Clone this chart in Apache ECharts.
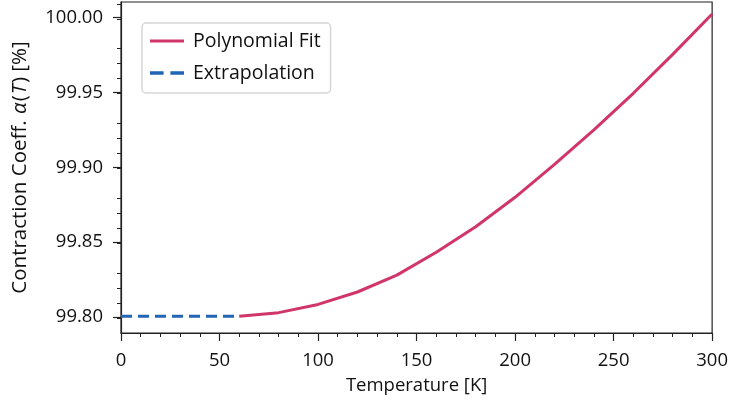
<!DOCTYPE html>
<html>
<head>
<meta charset="utf-8">
<script src="https://cdn.jsdelivr.net/npm/echarts@6/dist/echarts.min.js"></script>
<style>
  html, body { margin: 0; padding: 0; background: #fff; }
  #chart { width: 731px; height: 405px; }
</style>
</head>
<body>
<div id="chart"></div>
<script>
// Temperature samples (K) and polynomial-fit contraction coefficient (%)
const fitTemps = [60, 80, 100, 120, 140, 160, 180, 200, 220, 240, 260, 280, 300];
const fitValues = [99.8005, 99.8029, 99.8084, 99.8167, 99.8280, 99.8433, 99.8603, 99.8800, 99.9020, 99.9250, 99.9495, 99.9755, 100.0025];

// Constant extrapolation below the fitted range
const extrapTemps = [0, 60];
const extrapValues = [99.8005, 99.8005];

const seriesNames = ['Polynomial Fit', 'Extrapolation'];
const yTickValues = [99.80, 99.85, 99.90, 99.95, 100.00];

const FONT = '"Open Sans", "Noto Sans", sans-serif';
const AXIS_COLOR = '#222';
const TEXT_COLOR = '#111';
const FIT_COLOR = '#d1366a';
const EXTRAP_COLOR = '#2165b4';

const chart = echarts.init(document.getElementById('chart'), null, { renderer: 'canvas' });

function pairs(xs, ys) { return xs.map((x, i) => [x, ys[i]]); }

chart.setOption({
  animation: false,
  backgroundColor: '#fff',
  textStyle: { fontFamily: FONT },
  grid: {
    left: 121, right: 18, top: 2, bottom: 72,
    show: true, borderColor: AXIS_COLOR, borderWidth: 1.2, backgroundColor: 'transparent'
  },
  legend: {
    left: 142, top: 23,
    orient: 'vertical',
    itemWidth: 34, itemHeight: 14, itemGap: 12,
    padding: [8, 10, 10, 8],
    backgroundColor: '#fff',
    borderColor: '#d6d6d6', borderWidth: 1.5, borderRadius: 4,
    textStyle: { fontFamily: FONT, fontSize: 19.5, color: TEXT_COLOR, padding: [0, 0, 0, 4], lineHeight: 19 },
    data: [
      { name: seriesNames[0], icon: 'path://M0,0 L34,0 L34,3 L0,3 Z' },
      { name: seriesNames[1], icon: 'path://M0,0 L12,0 L12,3 L0,3 Z M18,0 L30,0 L30,3 L18,3 Z' }
    ]
  },
  xAxis: {
    type: 'value',
    min: 0, max: 300, interval: 50,
    name: 'Temperature [K]',
    nameLocation: 'middle',
    nameGap: 43,
    nameTextStyle: { fontFamily: FONT, fontSize: 18.5, color: TEXT_COLOR },
    axisLine: { show: true, lineStyle: { color: AXIS_COLOR, width: 1.2 } },
    axisTick: { show: true, inside: false, length: 8, lineStyle: { color: AXIS_COLOR, width: 1.2 } },
    minorTick: { show: true, splitNumber: 5, length: 4, lineStyle: { color: AXIS_COLOR, width: 1 } },
    axisLabel: { fontFamily: FONT, fontSize: 18.5, color: TEXT_COLOR, margin: 18 },
    splitLine: { show: false }
  },
  yAxis: {
    type: 'value',
    min: 99.7893, max: 100.0105,
    interval: 0.05,
    name: 'Contraction Coeff. {i|α}(' + '{i|T}) [%]',
    nameLocation: 'middle',
    nameGap: 90,
    nameRotate: 90,
    nameTextStyle: {
      fontFamily: FONT, fontSize: 20.5, color: TEXT_COLOR,
      rich: { i: { fontFamily: FONT, fontSize: 20.5, fontStyle: 'italic', color: TEXT_COLOR, padding: [0, 1] } }
    },
    axisLine: { show: true, lineStyle: { color: AXIS_COLOR, width: 1.2 } },
    axisTick: { show: true, inside: false, length: 8, lineStyle: { color: AXIS_COLOR, width: 1.2 }, customValues: yTickValues },
    minorTick: { show: true, splitNumber: 5, length: 4, lineStyle: { color: AXIS_COLOR, width: 1 } },
    axisLabel: {
      fontFamily: FONT, fontSize: 18.5, color: TEXT_COLOR, margin: 18,
      customValues: yTickValues,
      formatter: v => v.toFixed(2)
    },
    splitLine: { show: false }
  },
  series: [
    {
      name: seriesNames[0],
      type: 'line',
      data: pairs(fitTemps, fitValues),
      showSymbol: false,
      smooth: false,
      lineStyle: { color: FIT_COLOR, width: 3 },
      itemStyle: { color: FIT_COLOR },
      z: 3
    },
    {
      name: seriesNames[1],
      type: 'line',
      data: pairs(extrapTemps, extrapValues),
      showSymbol: false,
      lineStyle: { color: EXTRAP_COLOR, width: 3, type: [11, 6] },
      itemStyle: { color: EXTRAP_COLOR },
      z: 2
    }
  ]
});
</script>
</body>
</html>
